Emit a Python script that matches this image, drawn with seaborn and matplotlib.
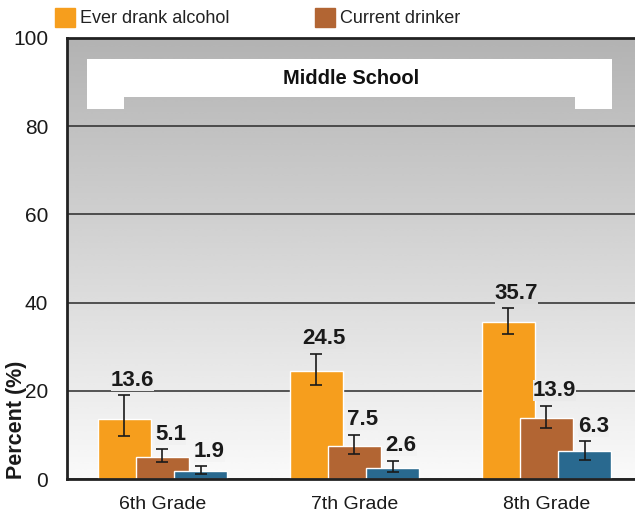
import numpy as np
import pandas as pd
import matplotlib
matplotlib.use('Agg')
import matplotlib.pyplot as plt
from matplotlib.patches import Patch, Polygon
import seaborn as sns

# Data
grades = ['6th Grade', '7th Grade', '8th Grade']
measures = ['Ever drank alcohol', 'Current drinker', 'Binge drinker']
ever_drank = [13.6, 24.5, 35.7]
current_drinker = [5.1, 7.5, 13.9]
binge_drinker = [1.9, 2.6, 6.3]
# confidence interval ends (low / high), per measure
ci_low = [[9.7, 21.3, 32.8], [4.0, 5.7, 11.7], [1.3, 1.7, 4.4]]
ci_high = [[19.0, 28.4, 38.7], [6.8, 10.0, 16.6], [2.9, 4.1, 8.6]]
colors = ['#F69E1D', '#B26533', '#29698F']

df = pd.DataFrame({
    'grade': grades * 3,
    'measure': np.repeat(measures, 3),
    'value': ever_drank + current_drinker + binge_drinker,
})

sns.set_style('white')
plt.rcParams['font.family'] = ['Liberation Sans', 'DejaVu Sans']

fig = plt.figure(figsize=(6.35, 5.19), dpi=100)
ax = fig.add_axes([0.1055, 0.0765, 0.8945, 0.8507])

# grey-to-white gradient behind the plot
bg_top, bg_bot = 0.70, 0.98
grad = np.linspace(0, 1, 256).reshape(-1, 1)
ax.imshow(bg_top + (bg_bot - bg_top) * grad, cmap='gray', vmin=0, vmax=1,
          extent=(0, 1, 0, 1), transform=ax.transAxes, aspect='auto',
          interpolation='bicubic', zorder=0)

def bg_at(frac):
    g = bg_bot + (bg_top - bg_bot) * frac
    return (g, g, g)

sns.barplot(data=df, x='grade', y='value', hue='measure', hue_order=measures,
            palette=colors, saturation=1, width=0.6, errorbar=None,
            legend=False, ax=ax, zorder=2)

ax.set_xlim(-0.497, 2.461)
ax.set_ylim(0, 100)
ax.set_yticks(range(0, 101, 20))

# widen the bars so they overlap, add error bars and value labels
bar_w = 0.276
bar_sets = list(ax.containers)
for cont, lows, highs in zip(bar_sets, ci_low, ci_high):
    for bar, lo, hi in zip(cont.patches, lows, highs):
        cx = bar.get_x() + bar.get_width() / 2
        bar.set_x(cx - bar_w / 2)
        bar.set_width(bar_w)
        v = bar.get_height()
        ax.errorbar(cx, v, yerr=[[v - lo], [hi - v]], color='#1a1a1a',
                    lw=1.2, capsize=4.5, capthick=1.2, zorder=4)
        ax.annotate(f'{v:.1f}', (cx, hi), xytext=(6, 7),
                    textcoords='offset points', ha='center', va='baseline',
                    fontsize=16, fontweight='bold', color='#1a1a1a', zorder=5,
                    bbox=dict(boxstyle='square,pad=0', ec='none',
                              fc=bg_at((hi + 5) / 100)))

# white banner with notch
banner = Polygon([(0.0347, 0.951), (0.960, 0.951), (0.960, 0.839),
                  (0.894, 0.839), (0.894, 0.867), (0.101, 0.867),
                  (0.101, 0.839), (0.0347, 0.839)],
                 closed=True, transform=ax.transAxes, fc='white', ec='none',
                 zorder=3)
ax.add_patch(banner)
ax.text(0.5, 0.907, 'Middle School', transform=ax.transAxes, ha='center',
        va='center', fontsize=14.5, fontweight='bold', color='#111111', zorder=4)

ax.yaxis.grid(True, color='#2a2a2a', lw=1.1)
ax.set_axisbelow(True)
ax.spines['right'].set_visible(False)
for s in ['left', 'top', 'bottom']:
    ax.spines[s].set_color('#222222')
    ax.spines[s].set_linewidth(2)

ax.tick_params(axis='y', length=0, pad=13.5, labelsize=15, labelcolor='#1a1a1a')
ax.tick_params(axis='x', length=0, pad=12, labelsize=14, labelcolor='#1a1a1a')
ax.set_xlabel('')
ax.set_ylabel('Percent (%)', fontsize=15.5, fontweight='bold', loc='bottom',
              color='#1a1a1a')
ax.yaxis.set_label_coords(-0.07, 0)

handles = [Patch(color=colors[0], label=measures[0]),
           Patch(color=colors[1], label=measures[1])]
fig.legend(handles=handles, loc='center left',
           bbox_to_anchor=(55 / 635, 1 - 17.5 / 519), ncol=2, frameon=False,
           fontsize=13, handlelength=1.1, handleheight=1.3,
           handletextpad=0.3, columnspacing=4.7, borderpad=0, borderaxespad=0,
           labelcolor='#222222')

fig.savefig('out.png', dpi=100)
